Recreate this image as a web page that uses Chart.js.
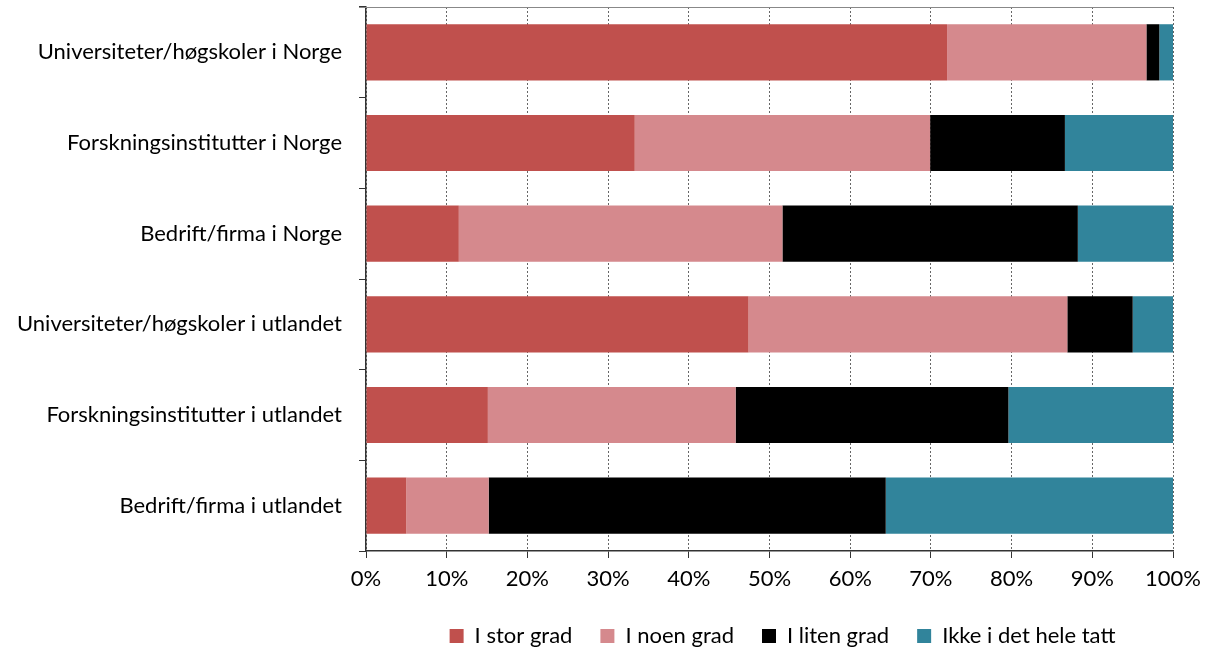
<!DOCTYPE html>
<html>
<head>
<meta charset="utf-8">
<script src="https://cdn.jsdelivr.net/npm/chart.js@4"></script>
<style>
  html, body { margin: 0; padding: 0; background: #fff; }
  #wrap { width: 1209px; height: 650px; }
</style>
</head>
<body>
<div id="wrap"><canvas id="myChart"></canvas></div>
<script>
const categories = [
  "Universiteter/høgskoler i Norge",
  "Forskningsinstitutter i Norge",
  "Bedrift/firma i Norge",
  "Universiteter/høgskoler i utlandet",
  "Forskningsinstitutter i utlandet",
  "Bedrift/firma i utlandet",
];
const iStorGrad = [72.0, 33.3, 11.5, 47.4, 15.1, 5.0];
const iNoenGrad = [24.7, 36.6, 40.1, 39.5, 30.7, 10.2];
const iLitenGrad = [1.6, 16.7, 36.6, 8.1, 33.8, 49.2];
const ikkeIDetHeleTatt = [1.7, 13.4, 11.8, 5.0, 20.4, 35.6];

const ctx = document.getElementById("myChart");
const font = "Lato";

// thin frame line along the top of the plot area, legend nudged right a bit
const frame = {
  id: "frame",
  afterLayout(chart) {
    chart.legend.left += 13;
    chart.legend.right += 13;
  },
  afterDatasetsDraw(chart) {
    const { ctx, chartArea: a } = chart;
    ctx.save();
    ctx.strokeStyle = "#888";
    ctx.lineWidth = 1;
    ctx.beginPath();
    ctx.moveTo(a.left - 7, a.top + 0.5);
    ctx.lineTo(a.right, a.top + 0.5);
    ctx.stroke();
    ctx.restore();
  },
};

new Chart(ctx, {
  type: "bar",
  data: {
    labels: categories,
    datasets: [
      { label: "I stor grad", data: iStorGrad, backgroundColor: "#C0504D" },
      { label: "I noen grad", data: iNoenGrad, backgroundColor: "#D5898D" },
      { label: "I liten grad", data: iLitenGrad, backgroundColor: "#000000" },
      { label: "Ikke i det hele tatt", data: ikkeIDetHeleTatt, backgroundColor: "#31849B" },
    ],
  },
  options: {
    indexAxis: "y",
    responsive: true,
    maintainAspectRatio: false,
    animation: false,
    categoryPercentage: 1,
    barPercentage: 0.62,
    layout: { padding: { top: 7, right: 35, left: 0, bottom: -7 } },
    plugins: {
      tooltip: { enabled: false },
      legend: {
        position: "bottom",
        fullSize: false,
        labels: {
          color: "#000",
          font: { family: font, size: 22 },
          boxWidth: 14,
          boxHeight: 14,
          padding: 28,
        },
      },
    },
    scales: {
      x: {
        stacked: true,
        min: 0,
        max: 100,
        ticks: {
          stepSize: 10,
          color: "#000",
          font: { family: font, size: 22 },
          padding: 8,
          callback: (v) => v + "%",
        },
        grid: {
          color: "#666",
          tickColor: "#333",
          tickLength: 7,
          tickBorderDash: [],
        },
        border: { display: true, color: "#333", width: 1.5, dash: [2, 2] },
        afterFit(scale) { scale.height = 46; },
      },
      y: {
        stacked: true,
        ticks: {
          color: "#000",
          font: { family: font, size: 22 },
          padding: 17,
        },
        grid: {
          offset: true,
          drawOnChartArea: false,
          tickColor: "#333",
          tickLength: 7,
        },
        border: { display: true, color: "#333", width: 1.5 },
        afterFit(scale) {
          scale.width = 366;
          scale.paddingTop = 0;
          scale.paddingBottom = 0;
        },
      },
    },
  },
  plugins: [frame],
});
</script>
</body>
</html>
